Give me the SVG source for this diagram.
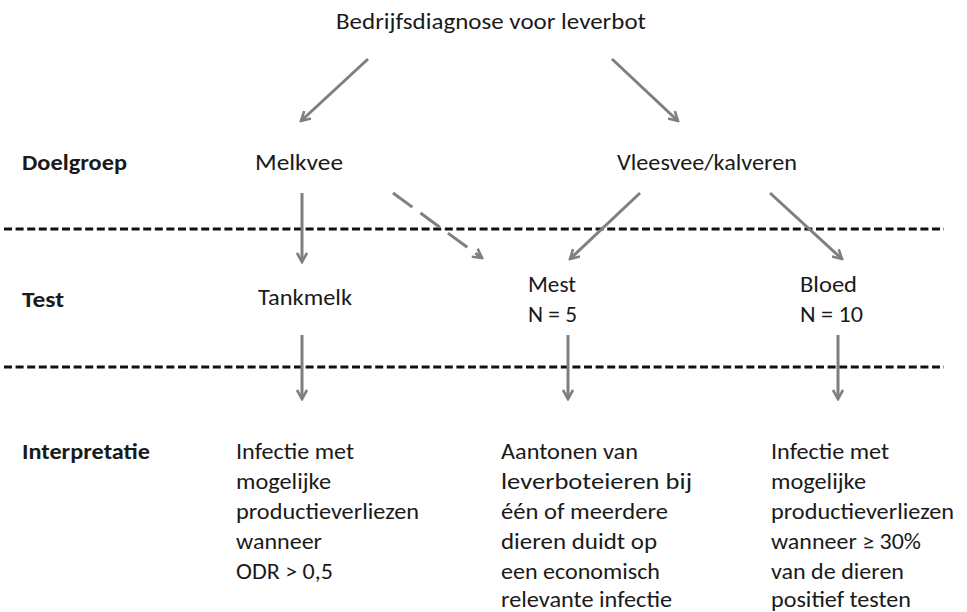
<svg xmlns="http://www.w3.org/2000/svg" width="967" height="612" viewBox="0 0 967 612">
<defs>
<style>
text{font-family:Carlito,"Liberation Sans",Arial,sans-serif;font-size:22px;fill:#1a1a1a}
.b{font-weight:bold}
.sep{stroke:#111;stroke-width:3;stroke-dasharray:8 3.6;fill:none}
.ar{stroke:#7f7f7f;stroke-width:3;fill:none;marker-end:url(#ah)}
.dash{stroke-dasharray:24 10}
</style>
<marker id="ah" viewBox="0 0 12 12" refX="10" refY="6" markerWidth="12" markerHeight="12" markerUnits="userSpaceOnUse" orient="auto">
<path d="M1,1 L10,6 L1,11" fill="none" stroke="#7f7f7f" stroke-width="2.6"/>
</marker>
</defs>
<rect width="967" height="612" fill="#fff"/>
<g id="separators">
<line class="sep" x1="4" y1="229" x2="944" y2="229"/>
<line class="sep" x1="4" y1="367" x2="944" y2="367"/>
</g>
<g id="labels">
<text class="b" x="22" y="170" textLength="105" lengthAdjust="spacingAndGlyphs">Doelgroep</text>
<text class="b" x="22" y="307" textLength="42" lengthAdjust="spacingAndGlyphs">Test</text>
<text class="b" x="22" y="459" textLength="128" lengthAdjust="spacingAndGlyphs">Interpretatie</text>
</g>
<g id="title"><text x="336" y="29" font-size="23" textLength="310" lengthAdjust="spacingAndGlyphs">Bedrijfsdiagnose voor leverbot</text></g>
<g id="melkvee"><text x="255" y="170" textLength="88" lengthAdjust="spacingAndGlyphs">Melkvee</text></g>
<g id="vleesvee"><text x="617" y="170" textLength="180" lengthAdjust="spacingAndGlyphs">Vleesvee/kalveren</text></g>
<g id="tankmelk"><text x="258" y="305" textLength="94" lengthAdjust="spacingAndGlyphs">Tankmelk</text></g>
<g id="mest"><text x="528" y="292" textLength="48" lengthAdjust="spacingAndGlyphs">Mest</text><text x="528" y="322" textLength="49" lengthAdjust="spacingAndGlyphs">N = 5</text></g>
<g id="bloed"><text x="800" y="292" textLength="57" lengthAdjust="spacingAndGlyphs">Bloed</text><text x="800" y="322" textLength="63" lengthAdjust="spacingAndGlyphs">N = 10</text></g>
<g id="interp-tankmelk">
<text x="236" y="459" textLength="118" lengthAdjust="spacingAndGlyphs">Infectie met</text>
<text x="236" y="489" textLength="95" lengthAdjust="spacingAndGlyphs">mogelijke</text>
<text x="236" y="519" textLength="183" lengthAdjust="spacingAndGlyphs">productieverliezen</text>
<text x="236" y="549" textLength="86" lengthAdjust="spacingAndGlyphs">wanneer</text>
<text x="236" y="579" textLength="97" lengthAdjust="spacingAndGlyphs">ODR &gt; 0,5</text>
</g>
<g id="interp-mest">
<text x="501" y="459" textLength="137" lengthAdjust="spacingAndGlyphs">Aantonen van</text>
<text x="501" y="489" textLength="191" lengthAdjust="spacingAndGlyphs">leverboteieren bij</text>
<text x="501" y="519" textLength="167" lengthAdjust="spacingAndGlyphs">één of meerdere</text>
<text x="501" y="549" textLength="156" lengthAdjust="spacingAndGlyphs">dieren duidt op</text>
<text x="501" y="579" textLength="159" lengthAdjust="spacingAndGlyphs">een economisch</text>
<text x="501" y="607" textLength="171" lengthAdjust="spacingAndGlyphs">relevante infectie</text>
</g>
<g id="interp-bloed">
<text x="771" y="459" textLength="118" lengthAdjust="spacingAndGlyphs">Infectie met</text>
<text x="771" y="489" textLength="95" lengthAdjust="spacingAndGlyphs">mogelijke</text>
<text x="771" y="519" textLength="183" lengthAdjust="spacingAndGlyphs">productieverliezen</text>
<text x="771" y="549" textLength="150" lengthAdjust="spacingAndGlyphs">wanneer ≥ 30%</text>
<text x="771" y="579" textLength="133" lengthAdjust="spacingAndGlyphs">van de dieren</text>
<text x="771" y="607" textLength="140" lengthAdjust="spacingAndGlyphs">positief testen</text>
</g>
<g id="connectors">
<line class="ar" x1="368" y1="59" x2="301" y2="121"/>
<line class="ar" x1="612" y1="59" x2="678" y2="121"/>
<line class="ar" x1="302" y1="193" x2="302" y2="262"/>
<line class="ar dash" x1="393" y1="193" x2="482" y2="258"/>
<line class="ar" x1="640" y1="193" x2="570" y2="259"/>
<line class="ar" x1="770" y1="193" x2="842" y2="259"/>
<line class="ar" x1="302" y1="335" x2="302" y2="399"/>
<line class="ar" x1="568" y1="335" x2="568" y2="399"/>
<line class="ar" x1="838" y1="335" x2="838" y2="399"/>
</g>
</svg>
